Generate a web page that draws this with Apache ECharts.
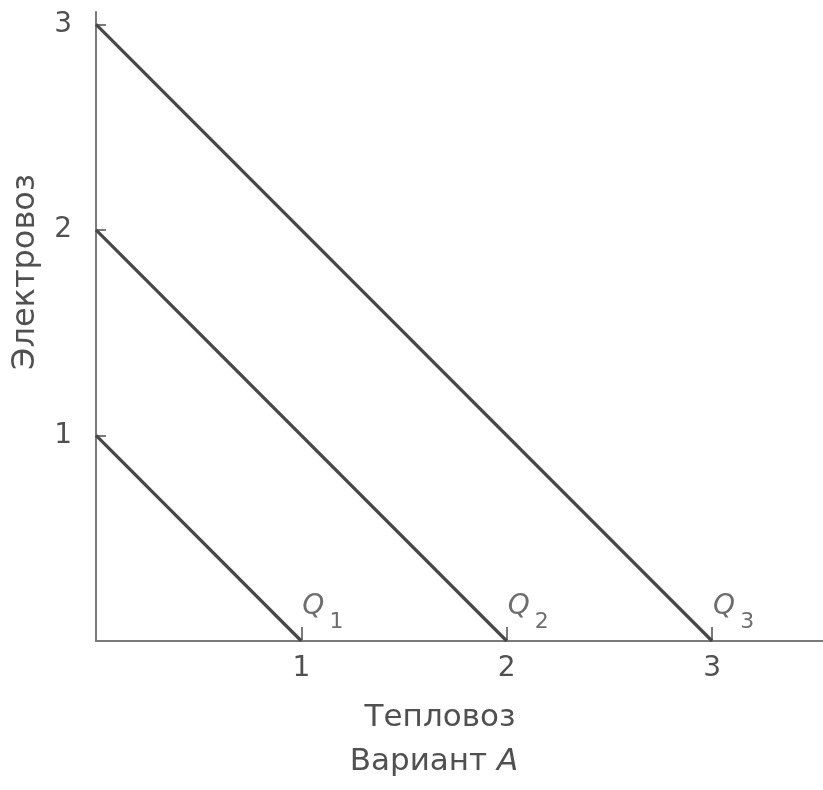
<!DOCTYPE html>
<html>
<head>
<meta charset="utf-8">
<script src="https://cdn.jsdelivr.net/npm/echarts@6/dist/echarts.min.js"></script>
<style>
  html, body { margin: 0; padding: 0; background: #fff; }
  #chart { width: 823px; height: 790px; }
</style>
</head>
<body>
<div id="chart"></div>
<script>
// Isoquants: each line joins (0, q) on the electric-locomotive axis to (q, 0) on the diesel axis
const quantities = [1, 2, 3];
const isoquantNames = ['1', '2', '3'];
const xTickValues = [1, 2, 3];
const yTickValues = [1, 2, 3];
const xAxisTitle = 'Тепловоз';
const yAxisTitle = 'Электровоз';
const captionText = 'Вариант ';
const captionLetter = 'A';

const FONT = 'DejaVu Sans';
const TEXT = '#505050';
const AXIS = '#7a7a7a';
const LINE = '#474747';

const chart = echarts.init(document.getElementById('chart'));

const lineSeries = quantities.map((q, i) => ({
  type: 'line',
  name: 'Q' + isoquantNames[i],
  data: [[0, q], [q, 0]],
  showSymbol: false,
  symbol: 'none',
  silent: true,
  lineStyle: { color: LINE, width: 3.2 },
  z: 3
}));

// "Q" with a lowered subscript index, placed just above each intercept on the x axis
const labelSeries = {
  type: 'scatter',
  data: quantities.map((q, i) => ({ value: [q, 0], name: isoquantNames[i] })),
  symbolSize: 0,
  itemStyle: { color: TEXT },
  silent: true,
  label: {
    show: true,
    position: 'right',
    distance: 0,
    offset: [1, -33],
    color: TEXT,
    textBorderWidth: 0,
    textBorderColor: 'transparent',
    formatter: p => '{q|Q}{s|' + p.name + '}',
    rich: {
      q: { fontFamily: FONT, fontStyle: 'italic', fontSize: 28, color: '#484848',
           textBorderWidth: 0, lineHeight: 30, padding: [0, 5, 0, 0], verticalAlign: 'top' },
      s: { fontFamily: FONT, fontSize: 22, color: '#484848',
           textBorderWidth: 0, lineHeight: 22, padding: [18, 0, 0, 0], verticalAlign: 'top' }
    }
  }
};

chart.setOption({
  animation: false,
  backgroundColor: '#fff',
  grid: { left: 96, right: 0, top: 12, bottom: 149, containLabel: false },
  xAxis: {
    type: 'value',
    min: 0,
    max: 3.54,
    interval: 1,
    splitLine: { show: false },
    axisLine: { show: true, lineStyle: { color: AXIS, width: 2 } },
    axisTick: { show: true, inside: true, length: 14, customValues: xTickValues,
                lineStyle: { color: AXIS, width: 2 } },
    axisLabel: { show: true, customValues: xTickValues, margin: 14,
                 fontFamily: FONT, fontSize: 28, color: TEXT }
  },
  yAxis: {
    type: 'value',
    min: 0,
    max: 3.06,
    interval: 1,
    splitLine: { show: false },
    axisLine: { show: true, lineStyle: { color: AXIS, width: 2 } },
    axisTick: { show: true, inside: true, length: 10, customValues: yTickValues,
                lineStyle: { color: AXIS, width: 2 } },
    axisLabel: { show: true, customValues: yTickValues, margin: 24,
                 fontFamily: FONT, fontSize: 28, color: TEXT }
  },
  graphic: [
    {
      type: 'text',
      x: 440, y: 718,
      style: { text: xAxisTitle, fontFamily: FONT, fontSize: 31, fill: TEXT,
               align: 'center', verticalAlign: 'middle' }
    },
    {
      type: 'text',
      x: 434, y: 762,
      style: {
        text: '{n|' + captionText + '}{a|' + captionLetter + '}',
        align: 'center', verticalAlign: 'middle',
        rich: {
          n: { fontFamily: FONT, fontSize: 31, fill: TEXT },
          a: { fontFamily: FONT, fontSize: 31, fontStyle: 'italic', fill: TEXT }
        }
      }
    },
    {
      type: 'text',
      x: 26, y: 272,
      rotation: Math.PI / 2,
      style: { text: yAxisTitle, fontFamily: FONT, fontSize: 32, fill: TEXT,
               align: 'center', verticalAlign: 'middle' }
    }
  ],
  series: [...lineSeries, labelSeries]
});
</script>
</body>
</html>
